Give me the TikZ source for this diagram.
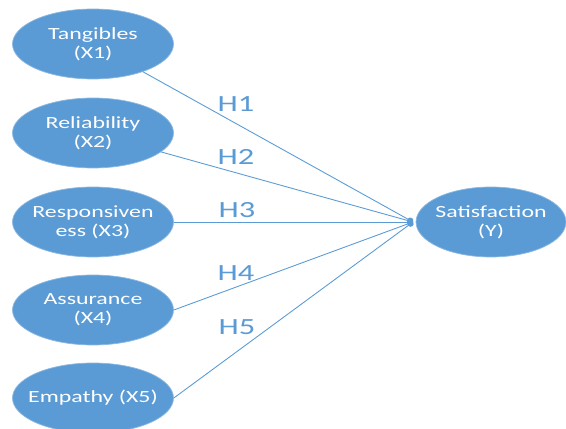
\documentclass[tikz,border=0pt]{standalone}
\usepackage{fontspec}
\setmainfont{Carlito}[FakeStretch=1.4]
\usetikzlibrary{positioning, arrows.meta, shapes.geometric}
\definecolor{boxblue}{RGB}{91,155,213}

\tikzset{
	factor/.style={ellipse, fill=boxblue, draw=boxblue!70!white, line width=0.4pt,
		minimum width=3.22cm, minimum height=1.4cm, inner xsep=-0.6cm, inner ysep=0pt,
		align=center, text=white, font=\fontsize{9.7}{11}\selectfont},
	link/.style={draw=boxblue, line width=0.5pt, -{Circle[length=3.4pt]}},
	hyp/.style={text=boxblue, font=\fontsize{13.2}{15}\selectfont}
}

\begin{document}
\begin{tikzpicture}[x=0.02cm, y=0.02cm]
		
		\useasboundingbox[fill=white] (0,0) rectangle (566,429);
		
		%Nodes
		\node (tang) at (93,385) [factor]{Tangibles \\ (X1)};
		\node (reli) at (93,296) [factor]{Reliability \\ (X2)};
		\node (resp) at (93,207) [factor]{Responsiven \\ ess (X3)};
		\node (assu) at (93,119) [factor]{Assurance \\ (X4)};
		\node (empa) at (93,31) [factor]{Empathy (X5)};
		
		\node (satis) at (491,207) [factor, minimum width=3cm]{Satisfaction \\ (Y)};
		\coordinate (meet) at (413,207);
		
		%Labels
		\node (h1) at (236,325) [hyp]{H1};
		\node (h2) at (236,272) [hyp]{H2};
		\node (h3) at (237,219) [hyp]{H3};
		\node (h4) at (236,156) [hyp]{H4};
		\node (h5) at (237,102) [hyp]{H5};
		
		%Links
		\draw[link] (tang) -- (meet);
		\draw[link] (reli) -- (meet);
		\draw[link] (resp.east) -- (meet);
		\draw[link] (assu.east) -- (meet);
		\draw[link] (empa.east) -- (meet);
		
\end{tikzpicture}
\end{document}
